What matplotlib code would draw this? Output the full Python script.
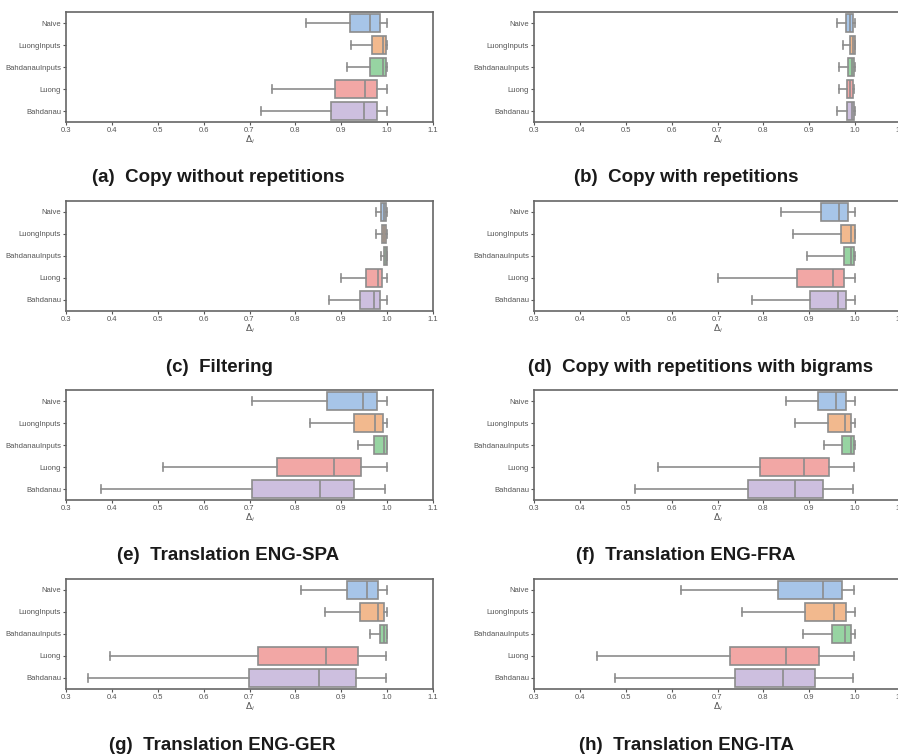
import numpy as np
import matplotlib.pyplot as plt

models = ['Naive', 'LuongInputs', 'BahdanauInputs', 'Luong', 'Bahdanau']
captions = ['(a)  Copy without repetitions', '(b)  Copy with repetitions',
            '(c)  Filtering', '(d)  Copy with repetitions with bigrams',
            '(e)  Translation ENG-SPA', '(f)  Translation ENG-FRA',
            '(g)  Translation ENG-GER', '(h)  Translation ENG-ITA']

# box stats per panel, one row per model: [whislo, q1, med, q3, whishi]
copy_norep = [[0.823, 0.919, 0.962, 0.985, 1.0],
              [0.921, 0.967, 0.990, 0.998, 1.0],
              [0.912, 0.963, 0.990, 0.998, 1.0],
              [0.749, 0.886, 0.952, 0.978, 0.999],
              [0.725, 0.877, 0.950, 0.978, 0.999]]
copy_rep = [[0.960, 0.980, 0.989, 0.996, 1.0],
            [0.974, 0.989, 0.995, 0.999, 1.0],
            [0.965, 0.985, 0.994, 0.998, 1.0],
            [0.964, 0.982, 0.989, 0.995, 0.998],
            [0.961, 0.983, 0.993, 0.998, 1.0]]
filtering = [[0.975, 0.987, 0.993, 0.997, 1.0],
             [0.976, 0.989, 0.993, 0.998, 1.0],
             [0.986, 0.993, 0.997, 0.999, 1.0],
             [0.900, 0.953, 0.981, 0.989, 1.0],
             [0.874, 0.941, 0.971, 0.985, 1.0]]
bigrams = [[0.838, 0.925, 0.964, 0.984, 1.0],
           [0.865, 0.970, 0.990, 0.999, 1.0],
           [0.895, 0.975, 0.991, 0.997, 1.0],
           [0.700, 0.873, 0.951, 0.976, 0.999],
           [0.775, 0.902, 0.962, 0.981, 0.999]]
eng_spa = [[0.705, 0.869, 0.948, 0.979, 0.999],
           [0.832, 0.927, 0.974, 0.991, 1.0],
           [0.937, 0.972, 0.993, 0.999, 1.0],
           [0.512, 0.760, 0.884, 0.943, 0.999],
           [0.376, 0.706, 0.854, 0.927, 0.996]]
eng_fra = [[0.850, 0.918, 0.959, 0.980, 1.0],
           [0.870, 0.941, 0.977, 0.990, 1.0],
           [0.933, 0.972, 0.992, 0.998, 1.0],
           [0.571, 0.793, 0.889, 0.942, 0.997],
           [0.521, 0.766, 0.869, 0.929, 0.995]]
eng_ger = [[0.812, 0.913, 0.957, 0.981, 0.999],
           [0.864, 0.940, 0.980, 0.994, 1.0],
           [0.962, 0.984, 0.993, 0.999, 1.0],
           [0.396, 0.719, 0.866, 0.936, 0.997],
           [0.348, 0.699, 0.851, 0.933, 0.997]]
eng_ita = [[0.621, 0.832, 0.930, 0.972, 0.998],
           [0.753, 0.890, 0.955, 0.981, 0.999],
           [0.887, 0.950, 0.978, 0.992, 0.999],
           [0.437, 0.728, 0.850, 0.921, 0.997],
           [0.476, 0.738, 0.843, 0.913, 0.995]]
panels = [copy_norep, copy_rep, filtering, bigrams, eng_spa, eng_fra, eng_ger, eng_ita]

colors = ['#a7c5e8', '#f2b98e', '#97d4a2', '#f2a7a5', '#cdbfdf']
edge = '#8c8c8c'

W, H = 898, 755
fig = plt.figure(figsize=(W / 100, H / 100), dpi=100)
plt.rcParams['font.family'] = ['Liberation Sans', 'DejaVu Sans']

# axes boxes in pixels: left, top, width, height
col_x = [66, 534]
row_y = [12, 201, 390, 579]
ax_w, ax_h = 367, 110
cap_x = [218, 686, 219, 701, 228, 686, 222, 686]
cap_y = [178, 178, 367, 367, 556, 556, 745, 745]

for k, stats in enumerate(panels):
    r, c = divmod(k, 2)
    x0, y0 = col_x[c], row_y[r]
    ax = fig.add_axes([x0 / W, 1 - (y0 + ax_h) / H, ax_w / W, ax_h / H])
    bxp_stats = []
    for name, s in zip(models, stats):
        bxp_stats.append({'label': name, 'whislo': s[0], 'q1': s[1], 'med': s[2],
                          'q3': s[3], 'whishi': s[4], 'fliers': []})
    pos = np.arange(len(models))
    parts = ax.bxp(bxp_stats, positions=pos, widths=0.8, vert=False,
                   patch_artist=True, showfliers=False,
                   boxprops=dict(edgecolor=edge, linewidth=1.2),
                   whiskerprops=dict(color=edge, linewidth=1.2),
                   capprops=dict(color=edge, linewidth=1.2),
                   medianprops=dict(color=edge, linewidth=1.2))
    for patch, col in zip(parts['boxes'], colors):
        patch.set_facecolor(col)
    ax.set_xlim(0.3, 1.1)
    ax.set_ylim(len(models) - 0.5, -0.5)
    ax.set_xticks(np.arange(0.3, 1.11, 0.1))
    ax.set_xticklabels(['%.1f' % v for v in np.arange(0.3, 1.11, 0.1)])
    ax.set_yticks(pos)
    ax.set_yticklabels(models)
    ax.tick_params(axis='both', labelsize=5.5, colors='#555555', length=2,
                   width=0.8, pad=1.5)
    for sp in ax.spines.values():
        sp.set_color('#666666')
        sp.set_linewidth(1.2)
    ax.set_xlabel(r'$\Delta_i$', fontsize=6.5, color='#555555', labelpad=0)
    fig.text(cap_x[k] / W, 1 - cap_y[k] / H, captions[k], fontsize=13.5,
             fontweight='bold', ha='center', va='center', color='#1a1a1a')

fig.savefig('out.png', dpi=100)
